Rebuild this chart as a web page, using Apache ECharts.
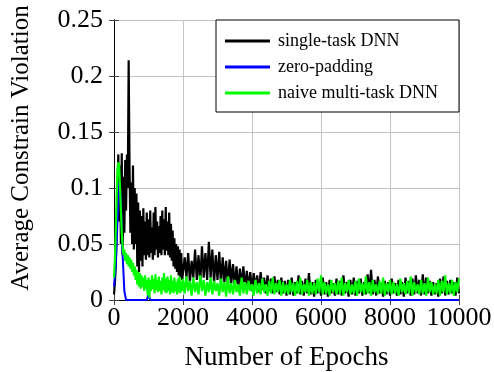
<!DOCTYPE html>
<html>
<head>
<meta charset="utf-8">
<script src="https://cdn.jsdelivr.net/npm/echarts@6/dist/echarts.min.js"></script>
<style>
  html, body { margin: 0; padding: 0; background: #fff; }
  #chart { width: 494px; height: 372px; }
</style>
</head>
<body>
<div id="chart"></div>
<script>
// early part sampled every 25 epochs (0..1975), the rest every 50 (2000..10000)
var earlyStep = 25;
var lateStart = 2000;
var lateStep = 50;

var singleTaskEarly = [
  0.005, 0.015, 0.03, 0.06, 0.1, 0.13, 0.07, 0.12, 0.05, 0.131,
  0.04, 0.11, 0.06, 0.125, 0.08, 0.13, 0.1, 0.214, 0.12, 0.06,
  0.105, 0.05, 0.12, 0.045, 0.1, 0.05, 0.095, 0.03, 0.087, 0.025,
  0.08, 0.035, 0.075, 0.03, 0.082, 0.04, 0.07, 0.036, 0.078, 0.04,
  0.072, 0.038, 0.08, 0.042, 0.065, 0.036, 0.078, 0.04, 0.083, 0.045,
  0.07, 0.038, 0.066, 0.042, 0.075, 0.04, 0.08, 0.045, 0.072, 0.04,
  0.083, 0.044, 0.07, 0.04, 0.078, 0.038, 0.068, 0.035, 0.062, 0.03,
  0.055, 0.028, 0.05, 0.025, 0.048, 0.022, 0.045, 0.02, 0.042, 0.018
];

var singleTaskLate = [
  0.018, 0.038, 0.02, 0.042, 0.016, 0.035, 0.02, 0.045, 0.018, 0.04,
  0.015, 0.048, 0.02, 0.042, 0.018, 0.052, 0.02, 0.045, 0.015, 0.04,
  0.018, 0.043, 0.014, 0.038, 0.016, 0.035, 0.012, 0.036, 0.015, 0.032,
  0.012, 0.03, 0.01, 0.028, 0.012, 0.03, 0.009, 0.026, 0.01, 0.025,
  0.008, 0.024, 0.01, 0.022, 0.007, 0.025, 0.009, 0.02, 0.006, 0.022,
  0.008, 0.019, 0.006, 0.021, 0.007, 0.018, 0.005, 0.02, 0.006, 0.017,
  0.004, 0.018, 0.005, 0.02, 0.004, 0.016, 0.006, 0.022, 0.005, 0.017,
  0.004, 0.019, 0.006, 0.024, 0.005, 0.016, 0.003, 0.018, 0.006, 0.015,
  0.004, 0.02, 0.005, 0.016, 0.003, 0.018, 0.006, 0.015, 0.004, 0.019,
  0.005, 0.017, 0.004, 0.022, 0.006, 0.016, 0.003, 0.018, 0.005, 0.02,
  0.004, 0.017, 0.006, 0.019, 0.004, 0.016, 0.005, 0.023, 0.006, 0.027,
  0.005, 0.018, 0.004, 0.021, 0.006, 0.015, 0.003, 0.017, 0.005, 0.016,
  0.004, 0.019, 0.006, 0.015, 0.004, 0.018, 0.005, 0.016, 0.003, 0.02,
  0.006, 0.017, 0.004, 0.019, 0.005, 0.022, 0.006, 0.018, 0.004, 0.023,
  0.005, 0.02, 0.006, 0.017, 0.004, 0.016, 0.005, 0.015, 0.003, 0.019,
  0.006, 0.021, 0.004, 0.017, 0.005, 0.018, 0.006, 0.016, 0.004, 0.02,
  0.006
];

var naiveMultiEarly = [
  0.02, 0.035, 0.06, 0.09, 0.115, 0.123, 0.12, 0.1, 0.08, 0.06,
  0.048, 0.04, 0.045, 0.035, 0.042, 0.032, 0.04, 0.03, 0.038, 0.028,
  0.036, 0.025, 0.033, 0.022, 0.03, 0.018, 0.027, 0.014, 0.025, 0.012,
  0.024, 0.01, 0.022, 0.012, 0.02, 0.008, 0.022, 0.01, 0.018, 0.004,
  0.02, 0.002, 0.018, 0.008, 0.022, 0.01, 0.019, 0.006, 0.023, 0.009,
  0.018, 0.007, 0.021, 0.008, 0.017, 0.005, 0.02, 0.009, 0.024, 0.007,
  0.019, 0.006, 0.021, 0.008, 0.018, 0.005, 0.022, 0.007, 0.017, 0.006,
  0.02, 0.008, 0.016, 0.005, 0.019, 0.007, 0.021, 0.006, 0.017, 0.008
];

var naiveMultiLate = [
  0.019, 0.006, 0.021, 0.008, 0.017, 0.004, 0.02, 0.007, 0.016, 0.005,
  0.022, 0.008, 0.018, 0.004, 0.016, 0.007, 0.02, 0.005, 0.017, 0.008,
  0.015, 0.004, 0.019, 0.007, 0.016, 0.003, 0.021, 0.006, 0.015, 0.005,
  0.018, 0.007, 0.014, 0.004, 0.02, 0.006, 0.016, 0.005, 0.017, 0.008,
  0.014, 0.004, 0.018, 0.006, 0.015, 0.005, 0.019, 0.007, 0.014, 0.004,
  0.017, 0.006, 0.02, 0.005, 0.015, 0.007, 0.018, 0.004, 0.016, 0.006,
  0.014, 0.005, 0.018, 0.007, 0.015, 0.004, 0.017, 0.006, 0.02, 0.005,
  0.014, 0.007, 0.018, 0.004, 0.016, 0.006, 0.015, 0.005, 0.019, 0.007,
  0.022, 0.005, 0.016, 0.006, 0.014, 0.004, 0.018, 0.007, 0.015, 0.005,
  0.017, 0.006, 0.02, 0.004, 0.015, 0.007, 0.018, 0.005, 0.014, 0.006,
  0.017, 0.004, 0.019, 0.007, 0.015, 0.005, 0.021, 0.006, 0.016, 0.004,
  0.018, 0.007, 0.014, 0.005, 0.017, 0.006, 0.02, 0.004, 0.015, 0.007,
  0.018, 0.005, 0.016, 0.006, 0.014, 0.004, 0.019, 0.007, 0.015, 0.005,
  0.017, 0.006, 0.021, 0.004, 0.016, 0.007, 0.014, 0.005, 0.018, 0.006,
  0.015, 0.004, 0.02, 0.007, 0.016, 0.005, 0.014, 0.006, 0.018, 0.004,
  0.017, 0.007, 0.022, 0.005, 0.015, 0.006, 0.018, 0.004, 0.016, 0.007,
  0.019
];

// zero-padding: breakpoints only
var zeroPadEpochs = [0, 50, 100, 150, 200, 250, 300, 350, 950, 1000, 1050, 10000];
var zeroPadValues = [0.012, 0.03, 0.07, 0.105, 0.09, 0.04, 0.008, 0, 0, 0.005, 0, 0];

var xTicks = [0, 2000, 4000, 6000, 8000, 10000];
var yTicks = [0, 0.05, 0.1, 0.15, 0.2, 0.25];

var font = 'Liberation Serif';

function toPoints(early, late) {
  var pts = early.map(function (v, i) { return [i * earlyStep, v]; });
  late.forEach(function (v, i) { pts.push([lateStart + i * lateStep, v]); });
  return pts;
}

var chart = echarts.init(document.getElementById('chart'));

var option = {
  animation: false,
  grid: { left: 114, right: 35, top: 20, bottom: 72, outerBoundsMode: 'none' },
  graphic: [{
    type: 'rect',
    z: 10,
    shape: { x: 216, y: 20, width: 243, height: 92 },
    style: { fill: '#fff', stroke: '#000', lineWidth: 1 }
  }],
  legend: {
    z: 11,
    orient: 'vertical',
    left: 225,
    top: 32,
    padding: 0,
    itemWidth: 45,
    itemHeight: 3,
    itemGap: 8,
    icon: 'rect',
    textStyle: { fontFamily: font, fontSize: 18, lineHeight: 18, color: '#000', padding: [0, 0, 0, 3] },
    data: ['single-task DNN', 'zero-padding', 'naive multi-task DNN']
  },
  xAxis: [{
    type: 'value',
    min: xTicks[0], max: xTicks[xTicks.length - 1], interval: 2000,
    name: 'Number of Epochs',
    nameLocation: 'middle',
    nameGap: 44,
    nameTextStyle: { fontFamily: font, fontSize: 27, color: '#000' },
    axisLine: { lineStyle: { color: '#000', width: 1 } },
    axisTick: { inside: true, length: 5, lineStyle: { color: '#444' } },
    axisLabel: { fontFamily: font, fontSize: 26, color: '#000', margin: 5,
      formatter: function (v) { return String(v); } },
    splitLine: { show: true, lineStyle: { color: '#c4c4c4', width: 1 } }
  }, {
    type: 'value', position: 'top',
    min: 0, max: 10000, interval: 2000,
    axisLine: { show: true, lineStyle: { color: '#000', width: 1 } },
    axisTick: { inside: true, length: 5, lineStyle: { color: '#444' } },
    axisLabel: { show: false },
    splitLine: { show: false }
  }],
  yAxis: [{
    type: 'value',
    min: yTicks[0], max: yTicks[yTicks.length - 1], interval: 0.05,
    name: 'Average Constrain Violation',
    nameLocation: 'middle',
    nameGap: 80,
    nameTextStyle: { fontFamily: font, fontSize: 25, color: '#000', padding: [0, 0, 0, 24] },
    axisLine: { show: true, lineStyle: { color: '#000', width: 1 } },
    axisTick: { inside: true, length: 5, lineStyle: { color: '#444' } },
    axisLabel: { fontFamily: font, fontSize: 26, color: '#000', margin: 11,
      formatter: function (v) { return String(v); } },
    splitLine: { show: true, lineStyle: { color: '#c4c4c4', width: 1 } }
  }, {
    type: 'value', position: 'right',
    min: 0, max: 0.25, interval: 0.05,
    axisLine: { show: true, lineStyle: { color: '#000', width: 1 } },
    axisTick: { inside: true, length: 5, lineStyle: { color: '#444' } },
    axisLabel: { show: false },
    splitLine: { show: false }
  }],
  series: [{
    name: 'single-task DNN',
    type: 'line',
    showSymbol: false,
    symbol: 'none',
    color: '#000',
    lineStyle: { width: 2.2, color: '#000' },
    data: toPoints(singleTaskEarly, singleTaskLate)
  }, {
    name: 'zero-padding',
    type: 'line',
    showSymbol: false,
    symbol: 'none',
    color: '#0000ff',
    lineStyle: { width: 2, color: '#0000ff' },
    data: zeroPadEpochs.map(function (e, i) { return [e, zeroPadValues[i]]; })
  }, {
    name: 'naive multi-task DNN',
    type: 'line',
    showSymbol: false,
    symbol: 'none',
    color: '#00ff00',
    lineStyle: { width: 2.2, color: '#00ff00' },
    data: toPoints(naiveMultiEarly, naiveMultiLate)
  }]
};

chart.setOption(option);
</script>
</body>
</html>
